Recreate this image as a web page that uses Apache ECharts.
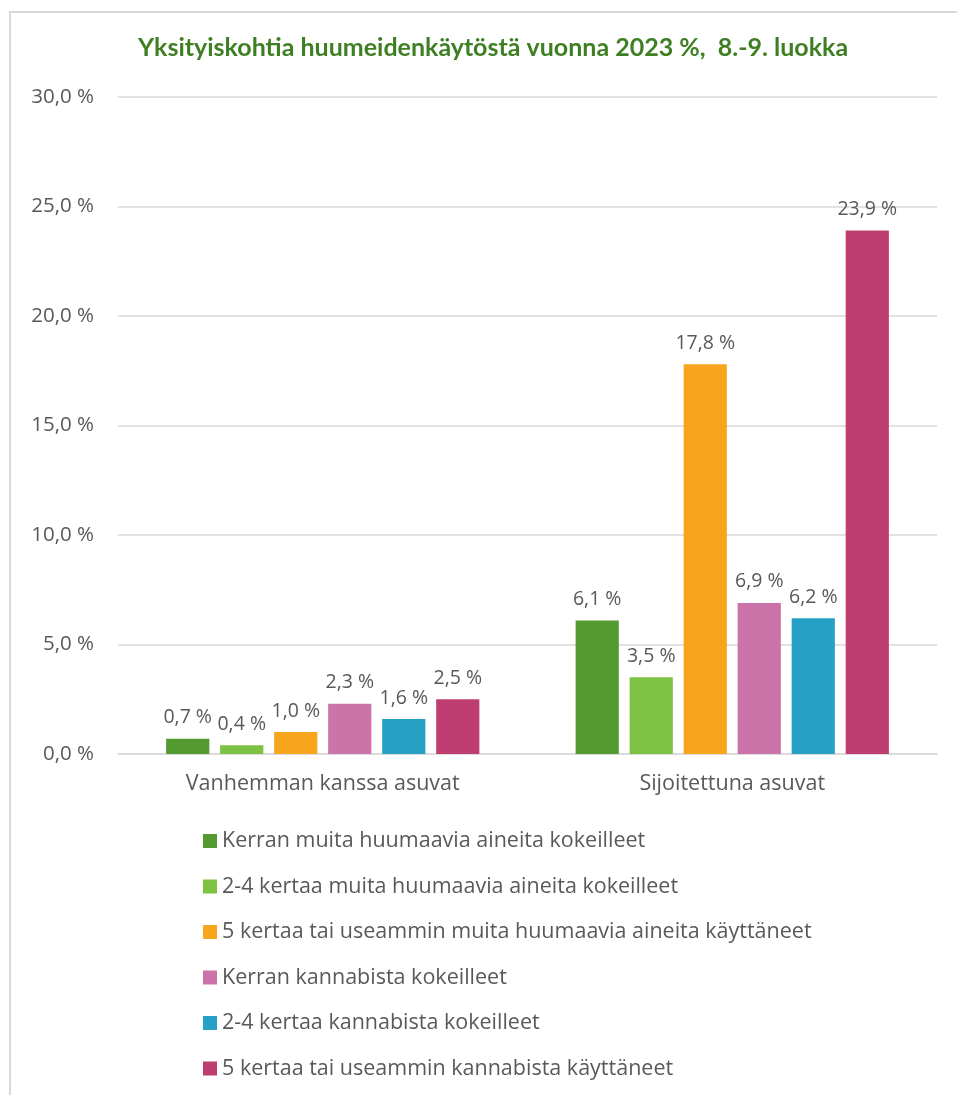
<!DOCTYPE html>
<html><head><meta charset="utf-8">
<script src="https://cdn.jsdelivr.net/npm/echarts@6/dist/echarts.min.js"></script>
<style>html,body{margin:0;padding:0;background:#fff}#c{width:957px;height:1095px}</style>
</head><body><div id="c"></div>
<script>
const categories = ['Vanhemman kanssa asuvat', 'Sijoitettuna asuvat'];
const seriesNames = [
  'Kerran muita huumaavia aineita kokeilleet',
  '2-4 kertaa muita huumaavia aineita kokeilleet',
  '5 kertaa tai useammin muita huumaavia aineita käyttäneet',
  'Kerran kannabista kokeilleet',
  '2-4 kertaa kannabista kokeilleet',
  '5 kertaa tai useammin kannabista käyttäneet'
];
const kerranMuita = [0.7, 6.1];
const kertaa24Muita = [0.4, 3.5];
const kertaa5Muita = [1.0, 17.8];
const kerranKannabis = [2.3, 6.9];
const kertaa24Kannabis = [1.6, 6.2];
const kertaa5Kannabis = [2.5, 23.9];
const seriesValues = [kerranMuita, kertaa24Muita, kertaa5Muita, kerranKannabis, kertaa24Kannabis, kertaa5Kannabis];
const colors = ['#539a31', '#7dc243', '#f7a51d', '#cc74aa', '#27a0c5', '#be3e72'];
const fmt = v => v.toFixed(1).replace('.', ',') + ' %';

const chart = echarts.init(document.getElementById('c'));
chart.setOption({
  animation: false,
  color: colors,
  graphic: [{
    type: 'rect', shape: {x: 10, y: 12, width: 960, height: 1100},
    style: {fill: 'none', stroke: '#d9d9d9', lineWidth: 2}, silent: true
  }],
  title: {
    text: 'Yksityiskohtia huumeidenkäytöstä vuonna 2023 %,  8.-9. luokka',
    left: 488, top: 30, textAlign: 'center',
    textStyle: {fontFamily: 'Lato', fontWeight: 'bold', fontSize: 25, color: '#3f7f23'}
  },
  grid: {left: 118, right: 20, top: 97, bottom: 341, containLabel: false},
  xAxis: {
    type: 'category', data: categories,
    axisLine: {lineStyle: {color: '#d9d9d9', width: 1.5}},
    axisTick: {show: false},
    axisLabel: {color: '#595959', fontSize: 21.5, fontFamily: 'Open Sans', margin: 19}
  },
  yAxis: {
    type: 'value', min: 0, max: 30, interval: 5,
    axisLabel: {color: '#595959', fontSize: 20.5, fontFamily: 'Open Sans', margin: 24, formatter: v => fmt(v)},
    splitLine: {lineStyle: {color: '#d9d9d9', width: 1.5}},
    axisLine: {show: false}, axisTick: {show: false}
  },
  legend: {
    orient: 'vertical', left: 198, top: 824, itemGap: 21.5,
    icon: 'rect', itemWidth: 14, itemHeight: 14,
    textStyle: {color: '#595959', fontSize: 21.5, fontFamily: 'Open Sans', lineHeight: 24},
    data: seriesNames
  },
  series: seriesNames.map((n, i) => ({
    name: n, type: 'bar', data: seriesValues[i],
    barGap: '25%', barCategoryGap: '23.5%',
    label: {show: true, position: 'top', distance: 11, color: '#595959', fontSize: 19.5, fontFamily: 'Open Sans', formatter: p => fmt(p.value)}
  }))
});
</script></body></html>
